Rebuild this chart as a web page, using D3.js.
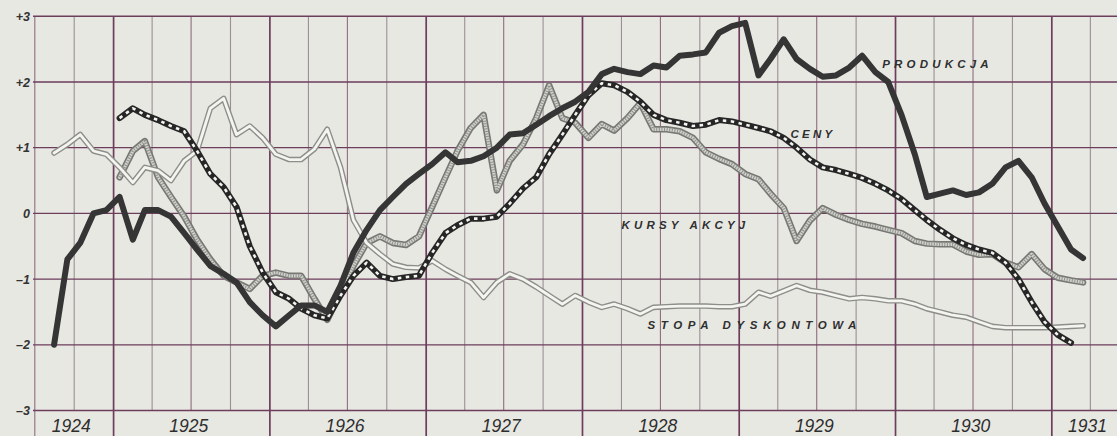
<!DOCTYPE html>
<html><head><meta charset="utf-8">
<script src="https://cdn.jsdelivr.net/npm/d3@7/dist/d3.min.js"></script>
<style>
html,body{margin:0;padding:0;background:#e8e8e3;}
svg{display:block;}
</style></head>
<body>
<svg id="c" width="1117" height="436"></svg>
<script>
// Months (Jul 1924 .. Mar 1931)
const months = ["1924-07","1924-08","1924-09","1924-10","1924-11","1924-12",
"1925-01","1925-02","1925-03","1925-04","1925-05","1925-06","1925-07","1925-08","1925-09","1925-10","1925-11","1925-12",
"1926-01","1926-02","1926-03","1926-04","1926-05","1926-06","1926-07","1926-08","1926-09","1926-10","1926-11","1926-12",
"1927-01","1927-02","1927-03","1927-04","1927-05","1927-06","1927-07","1927-08","1927-09","1927-10","1927-11","1927-12",
"1928-01","1928-02","1928-03","1928-04","1928-05","1928-06","1928-07","1928-08","1928-09","1928-10","1928-11","1928-12",
"1929-01","1929-02","1929-03","1929-04","1929-05","1929-06","1929-07","1929-08","1929-09","1929-10","1929-11","1929-12",
"1930-01","1930-02","1930-03","1930-04","1930-05","1930-06","1930-07","1930-08","1930-09","1930-10","1930-11","1930-12",
"1931-01","1931-02","1931-03"];

const produkcja = [null,-2.0,-0.7,-0.45,0.0,0.05, 0.25,-0.4,0.05,0.05,-0.05,-0.3,-0.55,-0.8,-0.92,-1.05,-1.35,-1.55,
-1.72,-1.55,-1.4,-1.4,-1.5,-1.1,-0.6,-0.25,0.05,0.25,0.45,0.6,
0.75,0.93,0.78,0.8,0.87,1.0,1.2,1.22,1.35,1.48,1.6,1.7,
1.85,2.12,2.2,2.15,2.12,2.25,2.22,2.4,2.42,2.45,2.75,2.85,
2.9,2.1,2.35,2.65,2.35,2.2,2.08,2.1,2.22,2.4,2.15,2.0,
1.5,0.9,0.25,0.3,0.35,0.28,0.32,0.45,0.7,0.8,0.55,0.15,
-0.2,-0.55,-0.68];

const ceny = [null,null,null,null,null,null, 1.45,1.6,1.5,1.42,1.33,1.25,0.95,0.6,0.4,0.1,-0.5,-0.9,
-1.2,-1.3,-1.45,-1.55,-1.6,-1.25,-0.95,-0.75,-0.95,-1.0,-0.97,-0.95,
-0.6,-0.3,-0.18,-0.08,-0.08,-0.05,0.15,0.38,0.55,0.9,1.2,1.5,
1.8,1.98,1.95,1.85,1.7,1.5,1.42,1.38,1.33,1.35,1.42,1.4,
1.35,1.3,1.25,1.15,1.0,0.82,0.7,0.66,0.6,0.54,0.45,0.35,
0.22,0.05,-0.1,-0.25,-0.38,-0.48,-0.55,-0.6,-0.75,-1.0,-1.35,-1.65,
-1.85,-1.97,null];

const kursyAkcyj = [null,null,null,null,null,null, 0.55,0.95,1.1,0.55,0.25,-0.05,-0.4,-0.7,-0.95,-1.05,-1.15,-0.95,
-0.9,-0.95,-0.95,-1.3,-1.62,-1.2,-0.8,-0.45,-0.35,-0.45,-0.48,-0.35,
0.1,0.55,0.95,1.3,1.5,0.35,0.8,1.05,1.45,1.95,1.45,1.38,
1.15,1.36,1.26,1.45,1.68,1.28,1.28,1.25,1.15,0.93,0.83,0.75,
0.6,0.52,0.3,0.08,-0.42,-0.11,0.08,-0.02,-0.1,-0.16,-0.2,-0.25,
-0.3,-0.42,-0.46,-0.47,-0.47,-0.58,-0.63,-0.62,-0.75,-0.82,-0.62,-0.85,
-0.98,-1.02,-1.05];

const stopaDyskontowa = [null,0.92,1.05,1.2,0.95,0.9, 0.7,0.47,0.7,0.65,0.5,0.8,0.95,1.6,1.75,1.2,1.33,1.15,
0.9,0.82,0.82,0.98,1.28,0.7,-0.1,-0.45,-0.62,-0.77,-0.82,-0.83,
-0.72,-0.85,-0.95,-1.05,-1.28,-1.05,-0.92,-1.0,-1.12,-1.25,-1.38,-1.25,
-1.35,-1.43,-1.38,-1.45,-1.53,-1.43,-1.42,-1.41,-1.41,-1.41,-1.42,-1.42,
-1.38,-1.2,-1.26,-1.18,-1.1,-1.17,-1.2,-1.25,-1.3,-1.28,-1.3,-1.33,
-1.33,-1.38,-1.45,-1.5,-1.55,-1.58,-1.65,-1.72,-1.74,-1.74,-1.74,-1.74,
-1.73,-1.72,-1.71];

const yTicks = [3,2,1,0,-1,-2,-3];
const yTickLabels = ["+3","+2","+1","0","\u20131","\u20132","\u20133"];
const years = ["1924","1925","1926","1927","1928","1929","1930","1931"];

const W = 1117, H = 436;
const svg = d3.select("#c");
const parse = d3.timeParse("%Y-%m");
const dates = months.map(parse);
const mid = d => d3.timeDay.offset(d, 14);

const x = d3.scaleTime()
  .domain([new Date(1924,6,1), new Date(1931,6,1)])
  .range([34.8, 34.8 + 84*13.03]);
const y = d3.scaleLinear().domain([-3,3]).range([410.5,16.3]);
const x0 = 33, x1 = W;

svg.append("rect").attr("width",W).attr("height",H).attr("fill","#e8e8e3");

const grid = svg.append("g");
const quarters = d3.timeMonth.every(3).range(new Date(1924,6,1), new Date(1931,6,2));
grid.selectAll("line.q").data(quarters).join("line")
  .attr("x1", d=>x(d)).attr("x2", d=>x(d))
  .attr("y1", y(3)).attr("y2", d => (d.getMonth()===0 || +d===+x.domain()[0]) ? H : y(-3))
  .attr("stroke", (d,i) => d.getMonth()===0 ? "#6d3d5c" : (i%2 ? "#8f8088" : "#80586f"))
  .attr("stroke-width", d => d.getMonth()===0 ? 1.7 : 1.1)
  .attr("opacity", d => d.getMonth()===0 ? 1 : 0.85);
grid.selectAll("line.h").data(yTicks).join("line")
  .attr("x1", x0).attr("x2", x1)
  .attr("y1", d=>y(d)).attr("y2", d=>y(d))
  .attr("stroke", "#6d3d5c").attr("stroke-width", d => (d===3||d===-3) ? 1.6 : 1.3);

svg.append("g").selectAll("text").data(yTicks).join("text")
  .attr("x", 30).attr("y", d=>y(d)+4.5)
  .attr("text-anchor","end")
  .attr("font-family","'Liberation Sans', Arial, sans-serif")
  .attr("font-style","italic").attr("font-weight","bold")
  .attr("font-size",12.5).attr("fill","#333")
  .text((d,i)=>yTickLabels[i]);

const dom = x.domain();
svg.append("g").selectAll("text").data(years).join("text")
  .attr("x", d => {
    const a = new Date(+d,0,1), b = new Date(+d+1,0,1);
    const s = a < dom[0] ? dom[0] : a, e = b > dom[1] ? dom[1] : b;
    return (x(s)+x(e))/2 - 3;
  })
  .attr("y", 432)
  .attr("text-anchor","middle")
  .attr("font-family","'Liberation Sans Narrow','Liberation Sans', Arial, sans-serif")
  .attr("font-style","italic")
  .attr("font-size",17.5).attr("fill","#2e2e2e")
  .text(d=>d);

const line = d3.line()
  .defined(d => d[1] !== null)
  .x(d => x(mid(d[0]))).y(d => y(d[1]))
  .curve(d3.curveLinear);
const pts = arr => dates.map((d,i)=>[d, arr[i]]);

const plot = svg.append("g").attr("fill","none").attr("stroke-linejoin","round").attr("stroke-linecap","round");

// KURSY AKCYJ – gray hatched double line
plot.append("path").attr("d", line(pts(kursyAkcyj))).attr("stroke","#777774").attr("stroke-width",6.5);
plot.append("path").attr("d", line(pts(kursyAkcyj))).attr("stroke","#d2d2cd").attr("stroke-width",3.2);
plot.append("path").attr("d", line(pts(kursyAkcyj))).attr("stroke","#8f8f8b").attr("stroke-width",3.2)
  .attr("stroke-linecap","butt").attr("stroke-dasharray","1 1.6");

// STOPA DYSKONTOWA – white double line
plot.append("path").attr("d", line(pts(stopaDyskontowa))).attr("stroke","#8d8d89").attr("stroke-width",5.6);
plot.append("path").attr("d", line(pts(stopaDyskontowa))).attr("stroke","#f4f4f0").attr("stroke-width",2.8);

// CENY – black with white dashes
plot.append("path").attr("d", line(pts(ceny))).attr("stroke","#262626").attr("stroke-width",6);
plot.append("path").attr("d", line(pts(ceny))).attr("stroke","#f4f4f0").attr("stroke-width",2.6)
  .attr("stroke-linecap","butt").attr("stroke-dasharray","3.5 4.5");

// PRODUKCJA – thick dark line
plot.append("path").attr("d", line(pts(produkcja))).attr("stroke","#353535").attr("stroke-width",6);

const labels = [
  {t:"PRODUKCJA", m:"1929-12", v:2.22, ls:4.2},
  {t:"CENY", m:"1929-05", v:1.15, ls:3.2},
  {t:"KURSY AKCYJ", m:"1928-04", v:-0.24, ls:4.2},
  {t:"STOPA DYSKONTOWA", m:"1928-06", v:-1.76, ls:5.6}
];
svg.append("g").selectAll("text").data(labels).join("text")
  .attr("x", d => x(parse(d.m))).attr("y", d => y(d.v))
  .attr("font-family","'Liberation Sans', Arial, sans-serif")
  .attr("font-style","italic").attr("font-weight","bold")
  .attr("font-size",11.5).attr("fill","#2f2f2f")
  .attr("letter-spacing", d=>d.ls)
  .text(d=>d.t);
</script>
</body></html>
